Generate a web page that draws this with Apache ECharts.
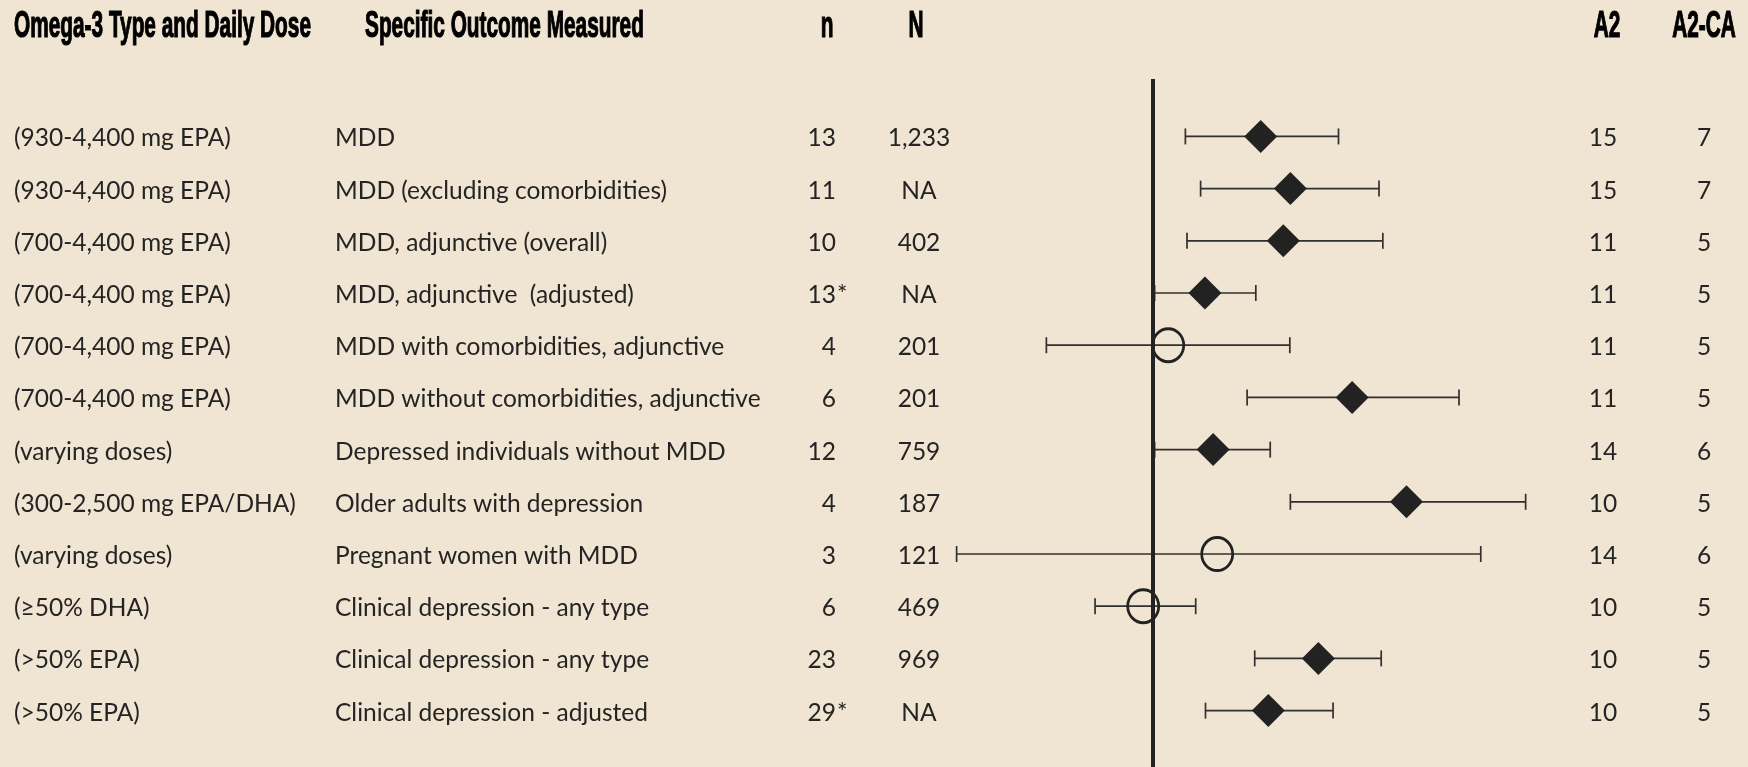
<!DOCTYPE html>
<html>
<head>
<meta charset="utf-8">
<script src="https://cdn.jsdelivr.net/npm/echarts@6/dist/echarts.min.js"></script>
<style>
    html, body { margin: 0; padding: 0; background: #f0e5d2; }
    #chart { width: 1748px; height: 767px; }
</style>
</head>
<body>
<div id="chart"></div>
<script>
// Table columns
const headers = ['Omega-3 Type and Daily Dose', 'Specific Outcome Measured', 'n', 'N', 'A2', 'A2-CA'];
const doses = [
    '(930-4,400 mg EPA)', '(930-4,400 mg EPA)', '(700-4,400 mg EPA)', '(700-4,400 mg EPA)',
    '(700-4,400 mg EPA)', '(700-4,400 mg EPA)', '(varying doses)', '(300-2,500 mg EPA/DHA)',
    '(varying doses)', '(\u226550% DHA)', '(>50% EPA)', '(>50% EPA)'
];
const outcomes = [
    'MDD', 'MDD (excluding comorbidities)', 'MDD, adjunctive (overall)', 'MDD, adjunctive  (adjusted)',
    'MDD with comorbidities, adjunctive', 'MDD without comorbidities, adjunctive',
    'Depressed individuals without MDD', 'Older adults with depression', 'Pregnant women with MDD',
    'Clinical depression - any type', 'Clinical depression - any type', 'Clinical depression - adjusted'
];
const nStudies = ['13', '11', '10', '13*', '4', '6', '12', '4', '3', '6', '23', '29*'];
const nParticipants = ['1,233', 'NA', '402', 'NA', '201', '201', '759', '187', '121', '469', '969', 'NA'];
const a2 = [15, 15, 11, 11, 11, 11, 14, 10, 14, 10, 10, 10];
const a2ca = [7, 7, 5, 5, 5, 5, 6, 5, 6, 5, 5, 5];

// Effect sizes with 95% CI
const effect = [0.396, 0.505, 0.479, 0.191, 0.056, 0.732, 0.221, 0.932, 0.236, -0.036, 0.608, 0.424];
const lower  = [0.119, 0.175, 0.125, 0.006, -0.392, 0.346, 0.006, 0.505, -0.722, -0.213, 0.374, 0.193];
const upper  = [0.682, 0.831, 0.845, 0.378, 0.503, 1.125, 0.431, 1.370, 1.205, 0.157, 0.839, 0.662];

const BODY_FONT = 'Lato';
const HEAD_FONT = '"Liberation Sans", Arial, sans-serif';
const TEXT_COLOR = '#242424';
const MARK_COLOR = '#222222';

const chart = echarts.init(document.getElementById('chart'));
const rows = doses.map((d, i) => i);

// squeeze the header font so the first header spans ~297px like the original condensed face
const measureCtx = document.createElement('canvas').getContext('2d');
measureCtx.font = 'bold 36px ' + HEAD_FONT;
const headScale = 297 / measureCtx.measureText(headers[0]).width;

function bodyText(x, y, text, align) {
    return {
        type: 'text',
        x: x,
        y: y,
        style: {
            text: text,
            fill: TEXT_COLOR,
            fontSize: 24.5,
            fontFamily: BODY_FONT,
            align: align,
            verticalAlign: 'middle'
        }
    };
}

function headText(x, text, align) {
    return {
        type: 'text',
        x: x,
        y: 27,
        scaleX: headScale,
        style: {
            text: text,
            fill: '#000',
            stroke: '#000',
            lineWidth: 1.2,
            fontSize: 36,
            fontWeight: 'bold',
            fontFamily: HEAD_FONT,
            align: align,
            verticalAlign: 'middle'
        }
    };
}

const option = {
    backgroundColor: '#f0e5d2',
    animation: false,
    grid: { left: 881, right: 51, top: 79, bottom: 0 },
    xAxis: {
        type: 'value',
        min: -1,
        max: 2,
        show: false
    },
    yAxis: {
        type: 'value',
        inverse: true,
        min: -1.1,
        max: 12.08,
        show: false
    },
    graphic: [
        headText(14, headers[0], 'left'),
        headText(365, headers[1], 'left'),
        headText(827, headers[2], 'center'),
        headText(916, headers[3], 'center'),
        headText(1607, headers[4], 'center'),
        headText(1704, headers[5], 'center')
    ],
    series: [
        {
            // table text, placed on the same row scale as the forest plot
            type: 'custom',
            data: rows.map(i => [0, i]),
            clip: false,
            silent: true,
            renderItem: (params, api) => {
                const i = params.dataIndex;
                const y = api.coord([0, api.value(1)])[1] + 2;
                const nStr = nStudies[i];
                const star = nStr.endsWith('*');
                const children = [
                    bodyText(14, y, doses[i], 'left'),
                    bodyText(335, y, outcomes[i], 'left'),
                    bodyText(836, y, star ? nStr.slice(0, -1) : nStr, 'right'),
                    bodyText(919, y, nParticipants[i], 'center'),
                    bodyText(1603, y, String(a2[i]), 'center'),
                    bodyText(1704, y, String(a2ca[i]), 'center')
                ];
                if (star) children.push(bodyText(837, y, '*', 'left'));
                return { type: 'group', children: children };
            }
        },
        {
            // confidence interval whiskers
            type: 'custom',
            data: rows.map(i => [lower[i], upper[i], i]),
            silent: true,
            renderItem: (params, api) => {
                const p1 = api.coord([api.value(0), api.value(2)]);
                const p2 = api.coord([api.value(1), api.value(2)]);
                const cap = 8;
                const style = { stroke: '#303030', lineWidth: 1.7 };
                return {
                    type: 'group',
                    children: [
                        { type: 'line', shape: { x1: p1[0], y1: p1[1], x2: p2[0], y2: p2[1] }, style: style },
                        { type: 'line', shape: { x1: p1[0], y1: p1[1] - cap, x2: p1[0], y2: p1[1] + cap }, style: style },
                        { type: 'line', shape: { x1: p2[0], y1: p2[1] - cap, x2: p2[0], y2: p2[1] + cap }, style: style }
                    ]
                };
            }
        },
        {
            // point estimates: filled diamond if CI excludes zero, open circle otherwise
            type: 'scatter',
            silent: true,
            z: 3,
            data: rows.map(i => {
                const sig = lower[i] > 0;
                return {
                    value: [effect[i], i],
                    symbol: sig ? 'diamond' : 'circle',
                    symbolSize: sig ? [33, 33] : [31, 33],
                    itemStyle: sig
                        ? { color: MARK_COLOR, opacity: 1 }
                        : { color: 'rgba(0,0,0,0)', borderColor: MARK_COLOR, borderWidth: 2.8, opacity: 1 }
                };
            }),
            markLine: {
                silent: true,
                symbol: 'none',
                label: { show: false },
                lineStyle: { color: MARK_COLOR, width: 4, type: 'solid', opacity: 1 },
                data: [{ xAxis: 0 }]
            }
        }
    ]
};

chart.setOption(option);
</script>
</body>
</html>
